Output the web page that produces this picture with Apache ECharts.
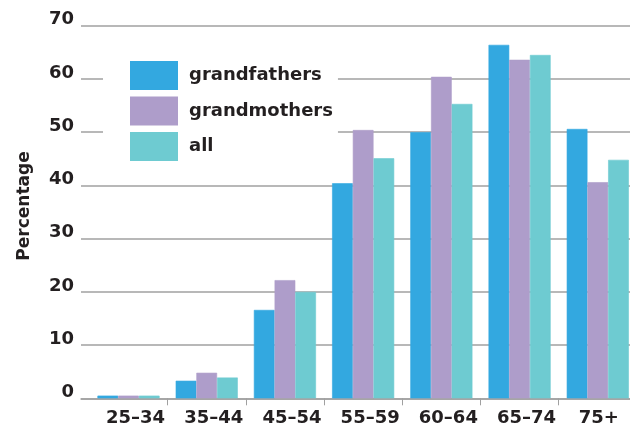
<!DOCTYPE html>
<html>
<head>
<meta charset="utf-8">
<script src="https://cdn.jsdelivr.net/npm/echarts@6/dist/echarts.min.js"></script>
<style>
  html, body { margin: 0; padding: 0; background: #fff; }
  #chart { width: 630px; height: 432px; }
</style>
</head>
<body>
<div id="chart"></div>
<script>
// Age groups along the horizontal axis
const categories = ['25–34', '35–44', '45–54', '55–59', '60–64', '65–74', '75+'];

// Share of people who are grandparents, by age group (%)
const grandfathers = [0.5, 3.3, 16.6, 40.4, 50.0, 66.4, 50.6];
const grandmothers = [0.5, 4.8, 22.2, 50.4, 60.4, 63.6, 40.6];
const allPeople    = [0.5, 3.9, 20.0, 45.1, 55.3, 64.5, 44.8];

const seriesNames = ['grandfathers', 'grandmothers', 'all'];
const seriesColors = ['#33a8e0', '#ae9dca', '#6ecbd1'];

const FONT = 'DejaVu Sans';
const INK = '#231f20';
const RULE = '#a0a0a0';

const labelFont = { fontFamily: FONT, fontWeight: 'bold', fontSize: 18, color: INK };

const chart = echarts.init(document.getElementById('chart'), null, { renderer: 'canvas' });

chart.setOption({
  animation: false,
  backgroundColor: '#ffffff',
  textStyle: { fontFamily: FONT },
  grid: [
    // frame for the value scale, rules and baseline
    { left: 81, right: 0, top: 25.7, bottom: 33.7, outerBoundsMode: 'none' },
    // frame for the bar groups (runs slightly past the right edge)
    { left: 89.4, width: 547.5, top: 25.7, bottom: 33.7, outerBoundsMode: 'none' }
  ],
  legend: {
    orient: 'vertical',
    left: 103,
    top: 51,
    padding: [10, 5, 10, 27],
    backgroundColor: '#ffffff',
    itemWidth: 48,
    itemHeight: 29,
    itemGap: 6.5,
    icon: 'rect',
    itemStyle: { borderWidth: 0 },
    data: seriesNames,
    textStyle: Object.assign({}, labelFont, { padding: [0, 0, 0, 6] })
  },
  xAxis: [
    {
      gridIndex: 0,
      type: 'value',
      min: 0,
      max: 1,
      axisLine: { show: true, lineStyle: { color: RULE, width: 1.5 } },
      axisTick: { show: false },
      axisLabel: { show: false },
      splitLine: { show: false }
    },
    {
      gridIndex: 1,
      type: 'category',
      data: categories,
      axisLine: { show: false },
      axisTick: {
        show: true,
        length: 7,
        interval: function (index) { return index !== 0; },
        lineStyle: { color: RULE, width: 1 }
      },
      axisLabel: Object.assign({}, labelFont, {
        interval: 0,
        hideOverlap: false,
        margin: 11,
        padding: [0, 0, 0, 14],
        // the open-ended last group sits a little further left
        formatter: function (value, index) {
          return index === categories.length - 1 ? '{last|' + value + '}' : value;
        },
        rich: {
          last: Object.assign({}, labelFont, { padding: [0, 12, 0, 0] })
        }
      })
    }
  ],
  yAxis: [
    {
      gridIndex: 0,
      type: 'value',
      min: 0,
      max: 70,
      interval: 10,
      name: 'Percentage',
      nameLocation: 'middle',
      nameRotate: 90,
      nameGap: 48,
      nameTextStyle: {
        fontFamily: FONT,
        fontWeight: 'bold',
        fontSize: 17,
        color: INK,
        padding: [0, 0, 0, 12]
      },
      axisLine: { show: false },
      axisTick: { show: false },
      axisLabel: Object.assign({}, labelFont, {
        margin: 7,
        lineHeight: 12,
        verticalAlign: 'bottom'
      }),
      splitLine: { show: true, lineStyle: { color: RULE, width: 1.5 } }
    },
    {
      gridIndex: 1,
      type: 'value',
      min: 0,
      max: 70,
      show: false
    }
  ],
  series: [
    { name: seriesNames[0], data: grandfathers, color: seriesColors[0] },
    { name: seriesNames[1], data: grandmothers, color: seriesColors[1] },
    { name: seriesNames[2], data: allPeople, color: seriesColors[2] }
  ].map(function (s) {
    return {
      type: 'bar',
      name: s.name,
      data: s.data,
      xAxisIndex: 1,
      yAxisIndex: 1,
      barWidth: 20.7,
      barGap: '0%',
      itemStyle: { color: s.color, borderColor: s.color, borderWidth: 0.6 },
      emphasis: { disabled: true }
    };
  })
});
</script>
</body>
</html>
